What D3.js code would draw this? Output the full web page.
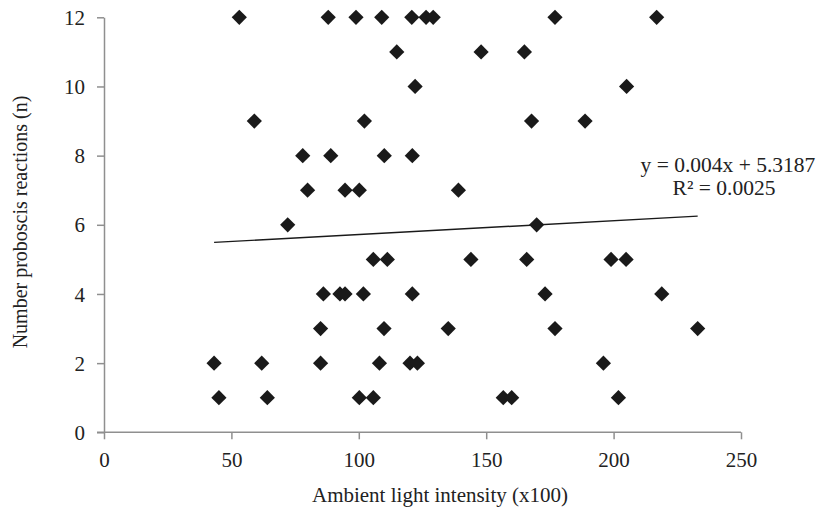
<!DOCTYPE html>
<html lang="en">
  <head>
    <meta charset="utf-8">
    <title>Proboscis reactions vs ambient light</title>
    <script type="text/javascript" src="https://d3js.org/d3.v7.min.js"></script>
    <style type="text/css">
      html, body {
        margin: 0;
        padding: 0;
        background: #fff;
      }
      svg text {
        font-family: "Liberation Serif", "DejaVu Serif", serif;
        fill: #222;
      }
      .axis path, .axis line {
        stroke: #8f8f8f;
        stroke-width: 1.5px;
      }
      .axis text {
        font-size: 21px;
      }
    </style>
  </head>
  <body>
    <script type="text/javascript">
      // light intensity (x100) per observation
      var lightX = [
        53.1, 88.0, 98.9, 109.0, 120.8, 126.4, 129.2, 177.0, 216.9,
        114.9, 148.0, 165.0,
        122.1, 205.1,
        59.0, 102.2, 167.8, 188.8,
        78.0, 89.0, 110.0, 121.0,
        79.9, 94.6, 100.2, 139.1,
        72.1, 169.8,
        105.7, 111.2, 144.0, 165.9, 199.0, 204.9,
        86.1, 92.6, 94.6, 101.8, 121.0, 173.1, 218.9,
        85.0, 109.9, 135.1, 177.0, 233.0,
        43.2, 61.9, 85.0, 108.1, 120.1, 123.0, 196.0,
        45.1, 64.1, 100.2, 105.7, 156.7, 160.0, 201.9
      ];
      // number of proboscis reactions for the same observations
      var reactions = [
        12, 12, 12, 12, 12, 12, 12, 12, 12,
        11, 11, 11,
        10, 10,
        9, 9, 9, 9,
        8, 8, 8, 8,
        7, 7, 7, 7,
        6, 6,
        5, 5, 5, 5, 5, 5,
        4, 4, 4, 4, 4, 4, 4,
        3, 3, 3, 3, 3,
        2, 2, 2, 2, 2, 2, 2,
        1, 1, 1, 1, 1, 1, 1
      ];
      var xTicks = [0, 50, 100, 150, 200, 250];
      var yTicks = [0, 2, 4, 6, 8, 10, 12];
      var trendSlope = 0.004;
      var trendIntercept = 5.3187;
      var trendLabel = ["y = 0.004x + 5.3187", "R\u00b2 = 0.0025"];

      var width = 822, height = 517;

      var svg = d3.select("body")
        .append("svg")
        .attr("width", width)
        .attr("height", height);

      var x = d3.scaleLinear().domain([0, 250]).range([104, 741]);
      var y = d3.scaleLinear().domain([0, 12]).range([432.3, 17.3]);

      // axes
      var xAxis = svg.append("g")
        .attr("class", "axis")
        .attr("transform", "translate(0," + y(0) + ")")
        .call(d3.axisBottom(x).tickValues(xTicks).tickSize(7).tickPadding(13).tickSizeOuter(0));
      xAxis.select(".domain").attr("d", "M" + (x(0) - 7) + ",0H" + x(250));

      var yAxis = svg.append("g")
        .attr("class", "axis")
        .attr("transform", "translate(" + x(0) + ",0)")
        .call(d3.axisLeft(y).tickValues(yTicks).tickSize(7).tickPadding(12).tickSizeOuter(0));
      yAxis.selectAll("text").attr("dy", "0.34em");

      // trend line
      var xMin = d3.min(lightX), xMax = d3.max(lightX);
      svg.append("line")
        .attr("x1", x(xMin))
        .attr("y1", y(trendIntercept + trendSlope * xMin))
        .attr("x2", x(xMax))
        .attr("y2", y(trendIntercept + trendSlope * xMax))
        .attr("stroke", "#1a1a1a")
        .attr("stroke-width", 1.4);

      // diamond markers
      var points = lightX.map(function(d, i) { return {x: d, y: reactions[i]}; });
      var r = 7.6;
      svg.selectAll("path.pt")
        .data(points)
        .enter()
        .append("path")
        .attr("class", "pt")
        .attr("d", function(d) {
          var cx = x(d.x), cy = y(d.y);
          return "M" + cx + "," + (cy - r) + "L" + (cx + r) + "," + cy +
                 "L" + cx + "," + (cy + r) + "L" + (cx - r) + "," + cy + "Z";
        })
        .attr("fill", "#1a1a1a");

      // trend equation
      var eq = svg.append("text")
        .attr("text-anchor", "middle")
        .style("font-size", "21.5px");
      eq.append("tspan").attr("x", 728).attr("y", 172).text(trendLabel[0]);
      eq.append("tspan").attr("x", 724).attr("y", 195).text(trendLabel[1]);

      // axis titles
      svg.append("text")
        .attr("x", 440)
        .attr("y", 502)
        .attr("text-anchor", "middle")
        .style("font-size", "21px")
        .text("Ambient light intensity (x100)");

      svg.append("text")
        .attr("transform", "translate(27,222) rotate(-90)")
        .attr("text-anchor", "middle")
        .style("font-size", "20px")
        .text("Number proboscis reactions (n)");
    </script>
  </body>
</html>
